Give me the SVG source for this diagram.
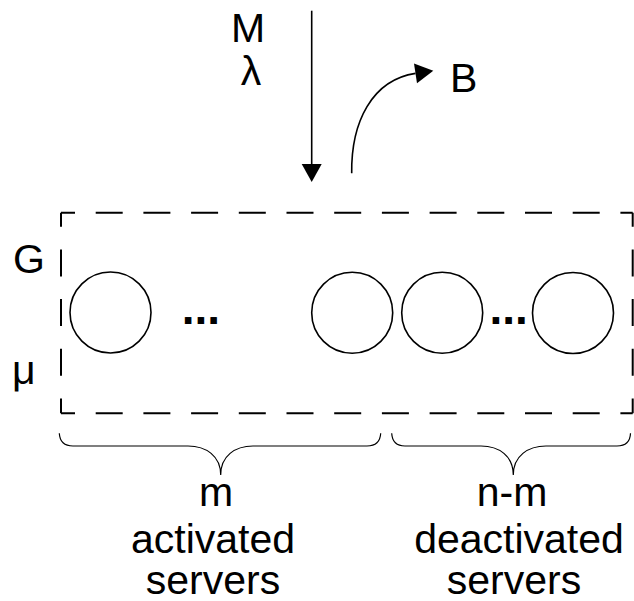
<svg xmlns="http://www.w3.org/2000/svg" width="634" height="601" viewBox="0 0 634 601">
  <style>
    .lbl { font-family: "Liberation Sans", Arial, sans-serif; font-size: 41px; fill: #000; }
    .mid { text-anchor: middle; }
    .dots { font-family: "Liberation Sans", Arial, sans-serif; font-weight: bold; font-size: 46px; fill: #000; }
    .server { fill: #fff; stroke: #000; stroke-width: 1.6; }
    .edge { fill: none; stroke: #000; stroke-width: 2; }
    .wire { fill: none; stroke: #000; stroke-width: 1.6; }
    .brace { fill: none; stroke: #000; stroke-width: 1.2; }
  </style>
  <defs>
    <marker id="head" markerUnits="userSpaceOnUse" markerWidth="18" markerHeight="20" refX="0" refY="10" orient="auto" overflow="visible">
      <path d="M0,0 L18,10 L0,20 Z" fill="#000"/>
    </marker>
  </defs>

  <rect width="634" height="601" fill="#fff"/>

  <!-- system boundary (dashed box) -->
  <g id="system">
    <line class="edge" x1="61" y1="212.7" x2="632.7" y2="212.7" stroke-dasharray="27 20.7" stroke-dashoffset="13"/>
    <line class="edge" x1="61" y1="413.3" x2="632.7" y2="413.3" stroke-dasharray="27 20.7" stroke-dashoffset="13"/>
    <line class="edge" x1="61" y1="212.7" x2="61" y2="413.3" stroke-dasharray="27 22.7" stroke-dashoffset="13"/>
    <line class="edge" x1="632.7" y1="212.7" x2="632.7" y2="413.3" stroke-dasharray="27 22.7" stroke-dashoffset="13"/>
  </g>

  <!-- activated servers -->
  <g id="server-a1"><circle class="server" cx="110.5" cy="312.5" r="40.5"/></g>
  <g id="dots-active"><text class="dots" x="181.8" y="323.5">...</text></g>
  <g id="server-am"><circle class="server" cx="352.2" cy="312.8" r="40.5"/></g>

  <!-- deactivated servers -->
  <g id="server-d1"><circle class="server" cx="442.2" cy="312.8" r="40.5"/></g>
  <g id="dots-inactive"><text class="dots" x="489.5" y="323.8">...</text></g>
  <g id="server-dn"><circle class="server" cx="573" cy="313" r="40.5"/></g>

  <!-- labels -->
  <g id="arrival-label">
    <text class="lbl mid" x="248" y="42">M</text>
    <text class="lbl mid" x="251" y="85">λ</text>
  </g>
  <g id="blocked-label"><text class="lbl" x="450" y="92">B</text></g>
  <g id="service-label">
    <text class="lbl" x="13" y="273">G</text>
    <text class="lbl" x="12" y="384">μ</text>
  </g>

  <!-- flows -->
  <g id="connectors">
    <line class="wire" x1="311.7" y1="10.7" x2="311.7" y2="164" marker-end="url(#head)"/>
    <path class="wire" d="M351.7,173.3 C351,122 372,80 415.5,73.4" marker-end="url(#head)"/>
  </g>

  <!-- group braces -->
  <g id="brace-active">
    <path class="brace" d="M59.3,433.3 Q60,446 73,446 L188,446 C206,446 220.7,456 220.7,475 C220.7,456 235,446 253,446 L367,446 Q380,446 380.7,433.3"/>
    <text class="lbl mid" x="216" y="506">m</text>
    <text class="lbl mid" x="213" y="553">activated</text>
    <text class="lbl mid" x="213" y="594">servers</text>
  </g>
  <g id="brace-inactive">
    <path class="brace" d="M391.7,433.3 Q392.4,446 405,446 L481,446 C499,446 513.3,456 513.3,475 C513.3,456 528,446 546,446 L617,446 Q630,446 630.5,433.3"/>
    <text class="lbl mid" x="512" y="506">n-m</text>
    <text class="lbl mid" x="519" y="553">deactivated</text>
    <text class="lbl mid" x="514" y="594">servers</text>
  </g>
</svg>
